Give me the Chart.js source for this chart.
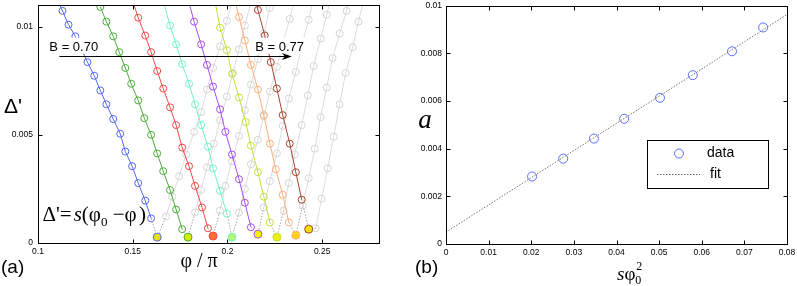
<!DOCTYPE html>
<html>
<head>
<meta charset="utf-8">
<script src="https://cdn.jsdelivr.net/npm/chart.js@4.4.0/dist/chart.umd.min.js"></script>
<style>
  body { margin: 0; background: #fff; }
  #wrap { position: relative; width: 797px; height: 286px; }
  canvas { position: absolute; top: 0; }
  #panelA { left: 0; }
  #panelB { left: 400px; }
</style>
</head>
<body>
<div id="wrap">
  <canvas id="panelA" width="390" height="286"></canvas>
  <canvas id="panelB" width="397" height="286"></canvas>
</div>
<script>
// panel (a): one descending branch per B, gray rising branch, minimum marker
const bValues = [0.70, 0.71, 0.72, 0.73, 0.74, 0.75, 0.76, 0.77];
const lineColors = ['#5468f0', '#4cad3a', '#f24848', '#72f2cc', '#a64ef2', '#bfe03a', '#ffae7a', '#a8432f'];
const minFills = ['#e4e400', '#d4ee00', '#ff6c30', '#aef870', '#f2f000', '#eeee10', '#ffd21e', '#f2e200'];

const phiDesc070 = [0.1097, 0.1129, 0.1161, 0.1197, 0.1229, 0.1261, 0.1297, 0.1329, 0.1361, 0.1397, 0.1434, 0.1461, 0.1497, 0.1529, 0.1566, 0.1597];
const dDesc070 = [0.01136, 0.01073, 0.01009, 0.00955, 0.00895, 0.00836, 0.00773, 0.00705, 0.00641, 0.00573, 0.00505, 0.00423, 0.00355, 0.00277, 0.00196, 0.00114];
const phiDesc071 = [0.1329, 0.1361, 0.1397, 0.1429, 0.1461, 0.1492, 0.1529, 0.1561, 0.1597, 0.1629, 0.1661, 0.1697, 0.1729, 0.1761];
const dDesc071 = [0.01091, 0.01023, 0.00955, 0.00882, 0.00809, 0.00736, 0.00659, 0.00577, 0.005, 0.00414, 0.00332, 0.00245, 0.00155, 0.00064];
const phiDesc072 = [0.1497, 0.1529, 0.1566, 0.1597, 0.1629, 0.1661, 0.1697, 0.1729, 0.1761, 0.1797, 0.1829, 0.1866, 0.1897];
const dDesc072 = [0.01127, 0.01041, 0.00959, 0.00882, 0.00795, 0.00714, 0.00627, 0.00545, 0.00441, 0.00355, 0.00264, 0.00164, 0.00068];
const phiDesc073 = [0.1661, 0.1697, 0.1729, 0.1761, 0.1797, 0.1829, 0.1861, 0.1897, 0.1924, 0.1961, 0.1997];
const dDesc073 = [0.01118, 0.01005, 0.00918, 0.00827, 0.00736, 0.00641, 0.00545, 0.00445, 0.00345, 0.00241, 0.00136];
const phiDesc074 = [0.1792, 0.1824, 0.1861, 0.1892, 0.1924, 0.1961, 0.1989, 0.2024, 0.2061, 0.2092, 0.2124];
const dDesc074 = [0.01127, 0.01023, 0.00918, 0.00823, 0.00723, 0.00618, 0.00514, 0.00409, 0.00295, 0.00186, 0.00073];
const phiDesc075 = [0.1934, 0.1961, 0.1997, 0.2024, 0.2061, 0.2097, 0.2124, 0.2161, 0.2192, 0.2224];
const dDesc075 = [0.0112, 0.00995, 0.00891, 0.00782, 0.00673, 0.00559, 0.0045, 0.00327, 0.00214, 0.00095];
const phiDesc076 = [0.2029, 0.2061, 0.2092, 0.2124, 0.2161, 0.2192, 0.2224, 0.2255, 0.2292, 0.2324];
const dDesc076 = [0.01159, 0.01045, 0.00936, 0.00823, 0.00709, 0.00591, 0.00459, 0.00341, 0.00223, 0.00095];
const phiDesc077 = [0.2129, 0.2161, 0.2197, 0.2229, 0.2261, 0.2292, 0.2329, 0.2361, 0.2392];
const dDesc077 = [0.01195, 0.01077, 0.00959, 0.00836, 0.00714, 0.00591, 0.00459, 0.00327, 0.002];

const phiAsc070 = [0.1676, 0.1708, 0.1745, 0.1782, 0.1824, 0.1861, 0.1892, 0.1924, 0.1961, 0.1997, 0.2029];
const dAsc070 = [0.00123, 0.00214, 0.00309, 0.00409, 0.00514, 0.00605, 0.00709, 0.00809, 0.00909, 0.01027, 0.01132];
const phiAsc071 = [0.1829, 0.1861, 0.1892, 0.1929, 0.1961, 0.1997, 0.2029, 0.2061, 0.2092, 0.2124];
const dAsc071 = [0.00141, 0.00245, 0.0035, 0.00459, 0.00568, 0.00677, 0.00786, 0.00895, 0.01005, 0.01114];
const phiAsc072 = [0.1961, 0.1989, 0.2024, 0.2061, 0.2092, 0.2124, 0.2161, 0.2192, 0.2224, 0.2255];
const dAsc072 = [0.0015, 0.00264, 0.00377, 0.00495, 0.00614, 0.00732, 0.0085, 0.00968, 0.01086, 0.01205];
const phiAsc073 = [0.2061, 0.2092, 0.2124, 0.2161, 0.2192, 0.2224, 0.2261, 0.2292, 0.2329, 0.2361];
const dAsc073 = [0.00141, 0.0025, 0.00364, 0.00477, 0.00586, 0.007, 0.00814, 0.00923, 0.01036, 0.0115];
const phiAsc074 = [0.2192, 0.2224, 0.2261, 0.2292, 0.2324, 0.2361, 0.2392, 0.2429, 0.2461];
const dAsc074 = [0.00164, 0.00286, 0.00414, 0.00541, 0.00668, 0.00791, 0.00914, 0.01032, 0.0115];
const phiAsc075 = [0.2297, 0.2324, 0.2355, 0.2392, 0.2424, 0.2455, 0.2492, 0.2524, 0.2555];
const dAsc075 = [0.0015, 0.00277, 0.00409, 0.00545, 0.00682, 0.00818, 0.00945, 0.01055, 0.01173];
const phiAsc076 = [0.2397, 0.2429, 0.2461, 0.2492, 0.2524, 0.2555, 0.2592, 0.2629, 0.2661];
const dAsc076 = [0.00173, 0.003, 0.00436, 0.00582, 0.00718, 0.00855, 0.00968, 0.01073, 0.01186];
const phiAsc077 = [0.2466, 0.2497, 0.2529, 0.2561, 0.2592, 0.2624, 0.2661, 0.2692, 0.2724];
const dAsc077 = [0.00068, 0.00205, 0.00345, 0.00491, 0.00641, 0.00786, 0.00905, 0.01023, 0.01141];

const phiMin = [0.1629, 0.1792, 0.1924, 0.2024, 0.2161, 0.2261, 0.2361, 0.2429];
const dMin = [0.00027, 0.00027, 0.00032, 0.00027, 0.00041, 0.00027, 0.00036, 0.00064];

const aXTicks = [0.1, 0.15, 0.2, 0.25];
const aXTickLabels = ['0.1', '0.15', '0.2', '0.25'];
const aYTicks = [0, 0.005, 0.01];
const aYTickLabels = ['0', '0.005', '0.01'];

// panel (b): a against s*phi0^2
const sPhi2 = [0.0202, 0.0275, 0.0347, 0.0418, 0.0502, 0.0579, 0.0671, 0.0744];
const aValues = [0.00283, 0.00358, 0.00442, 0.00525, 0.00613, 0.00708, 0.00808, 0.00908];
const fitX = [0, 0.08];
const fitY = [0.0005, 0.00962];

const bXTicks = [0, 0.01, 0.02, 0.03, 0.04, 0.05, 0.06, 0.07, 0.08];
const bXTickLabels = ['0', '0.01', '0.02', '0.03', '0.04', '0.05', '0.06', '0.07', '0.08'];
const bYTicks = [0, 0.002, 0.004, 0.006, 0.008, 0.01];
const bYTickLabels = ['0', '0.002', '0.004', '0.006', '0.008', '0.01'];

const SANS = '"Liberation Sans", Arial, sans-serif';
const SERIF = '"Liberation Serif", "Times New Roman", serif';
Chart.defaults.font.family = SANS;
Chart.defaults.color = '#000';

const toPts = (xs, ys) => xs.map((x, i) => ({ x: x, y: ys[i] }));

const descPhi = [phiDesc070, phiDesc071, phiDesc072, phiDesc073, phiDesc074, phiDesc075, phiDesc076, phiDesc077];
const descD = [dDesc070, dDesc071, dDesc072, dDesc073, dDesc074, dDesc075, dDesc076, dDesc077];
const ascPhi = [phiAsc070, phiAsc071, phiAsc072, phiAsc073, phiAsc074, phiAsc075, phiAsc076, phiAsc077];
const ascD = [dAsc070, dAsc071, dAsc072, dAsc073, dAsc074, dAsc075, dAsc076, dAsc077];

const datasetsA = [];
bValues.forEach((b, k) => {
    const last = descPhi[k].length - 1;
    // gray rising branch
    datasetsA.push({
        data: toPts(ascPhi[k], ascD[k]), showLine: true, order: 3,
        borderColor: '#dcdcdc', borderWidth: 1,
        pointRadius: 3.5, pointBorderColor: '#d4d4d4', pointBackgroundColor: 'rgba(0,0,0,0)', pointBorderWidth: 1
    });
    // dotted link through the minimum
    datasetsA.push({
        data: [
            { x: descPhi[k][last], y: descD[k][last] },
            { x: phiMin[k], y: dMin[k] },
            { x: ascPhi[k][0], y: ascD[k][0] }
        ],
        showLine: true, order: 2, borderColor: '#a8a8a8', borderWidth: 1, borderDash: [1.5, 1.5], pointRadius: 0
    });
    // coloured falling branch
    datasetsA.push({
        data: toPts(descPhi[k], descD[k]), showLine: true, order: 1,
        borderColor: lineColors[k], borderWidth: 1,
        pointRadius: 3.5, pointBorderColor: lineColors[k], pointBackgroundColor: 'rgba(0,0,0,0)', pointBorderWidth: 1
    });
    datasetsA.push({
        data: [{ x: phiMin[k], y: dMin[k] }], showLine: false, order: 0,
        pointRadius: 4, pointBorderColor: lineColors[k], pointBackgroundColor: minFills[k], pointBorderWidth: 1
    });
});

// box with inward ticks on all four sides
const frame = {
    id: 'frame',
    afterDraw(chart) {
        const { ctx, chartArea: ca, scales } = chart;
        const l = Math.round(ca.left) + 0.5, r = Math.round(ca.right) + 0.5;
        const t = Math.round(ca.top) + 0.5, b = Math.round(ca.bottom) + 0.5;
        ctx.save();
        ctx.strokeStyle = '#000';
        ctx.lineWidth = 1;
        ctx.strokeRect(l, t, r - l, b - t);
        ctx.beginPath();
        scales.x.ticks.forEach((tk) => {
            const p = Math.round(scales.x.getPixelForValue(tk.value)) + 0.5;
            ctx.moveTo(p, b); ctx.lineTo(p, b - 4);
            ctx.moveTo(p, t); ctx.lineTo(p, t + 4);
        });
        scales.y.ticks.forEach((tk) => {
            const p = Math.round(scales.y.getPixelForValue(tk.value)) + 0.5;
            ctx.moveTo(l, p); ctx.lineTo(l + 4, p);
            ctx.moveTo(r, p); ctx.lineTo(r - 4, p);
        });
        ctx.stroke();
        ctx.restore();
    }
};

const scaleOpts = (min, max, ticks, labels, size, pad) => ({
    type: 'linear', min: min, max: max,
    afterBuildTicks: (s) => { s.ticks = ticks.map((v) => ({ value: v })); },
    afterFit: (s) => {
        if (s.isHorizontal()) s.height = size; else s.width = size;
        s.paddingTop = 0; s.paddingBottom = 0; s.paddingLeft = 0; s.paddingRight = 0;
    },
    ticks: { callback: (v, i) => labels[i], font: { size: 8.5 }, color: '#000', padding: pad, maxRotation: 0, autoSkip: false },
    grid: { display: false, drawTicks: false },
    border: { display: false }
});

const annotA = {
    id: 'annotA',
    afterDatasetsDraw(chart) {
        const { ctx, scales } = chart;
        const xs = scales.x, ys = scales.y;
        ctx.save();
        ctx.fillStyle = '#000';
        ctx.textBaseline = 'alphabetic';

        // B labels on white boxes
        ctx.font = '13px ' + SANS;
        [[bValues[0], 0.106], [bValues[bValues.length - 1], 0.2147]].forEach(([b, x]) => {
            const txt = 'B = ' + b.toFixed(2);
            const px = xs.getPixelForValue(x), py = ys.getPixelForValue(0.00889);
            const w = ctx.measureText(txt).width;
            ctx.fillStyle = '#fff';
            ctx.fillRect(px - 2, py - 13, w + 4, 16);
            ctx.fillStyle = '#000';
            ctx.fillText(txt, px, py);
        });

        // arrow
        const ay = Math.round(ys.getPixelForValue(0.00866)) + 0.5;
        const ax0 = xs.getPixelForValue(0.1113), ax1 = xs.getPixelForValue(0.234);
        ctx.strokeStyle = '#000';
        ctx.lineWidth = 1;
        ctx.beginPath();
        ctx.moveTo(ax0, ay); ctx.lineTo(ax1 - 4, ay);
        ctx.stroke();
        ctx.beginPath();
        ctx.moveTo(ax1, ay);
        ctx.lineTo(ax1 - 10, ay - 3.5);
        ctx.lineTo(ax1 - 7, ay);
        ctx.lineTo(ax1 - 10, ay + 3.5);
        ctx.closePath();
        ctx.fill();

        // formula
        let fx = xs.getPixelForValue(0.1024);
        const fy = ys.getPixelForValue(0.00101);
        const part = (txt, font, dy) => {
            ctx.font = font;
            ctx.fillText(txt, fx, fy + dy);
            fx += ctx.measureText(txt).width;
        };
        part('\u0394\'=', '21px ' + SERIF, 0);
        part(' ', '8px ' + SERIF, 0);
        part('s', 'italic 21px ' + SERIF, 0);
        part('(\u03c6', '21px ' + SERIF, 0);
        part('0', '13px ' + SERIF, 5);
        part(' \u2212\u03c6', '21px ' + SERIF, 0);
        part(' ', '9px ' + SERIF, 0);
        part(')', '21px ' + SERIF, 0);

        // axis labels and panel tag
        ctx.font = '21px ' + SANS;
        ctx.textAlign = 'center';
        ctx.textBaseline = 'middle';
        ctx.fillText('\u0394\'', 13, 107);
        ctx.font = '20px ' + SERIF;
        ctx.fillText('\u03c6 / \u03c0', 199, 262);
        ctx.textAlign = 'left';
        ctx.textBaseline = 'alphabetic';
        ctx.font = '19px ' + SANS;
        ctx.fillText('(a)', 1, 273);
        ctx.restore();
    }
};

new Chart(document.getElementById('panelA'), {
    type: 'scatter',
    data: { datasets: datasetsA },
    options: {
        responsive: false, animation: false, events: [],
        layout: { padding: { top: 3, right: 11, left: 0, bottom: 0 } },
        plugins: { legend: { display: false }, tooltip: { enabled: false } },
        scales: {
            x: scaleOpts(0.1, 0.28, aXTicks, aXTickLabels, 43, 4),
            y: scaleOpts(0, 0.011, aYTicks, aYTickLabels, 38, 5)
        }
    },
    plugins: [annotA, frame]
});

const annotB = {
    id: 'annotB',
    afterDatasetsDraw(chart) {
        const { ctx } = chart;
        ctx.save();
        // legend
        ctx.fillStyle = '#fff';
        ctx.fillRect(247.5, 140.5, 121, 48);
        ctx.strokeStyle = '#000';
        ctx.lineWidth = 1;
        ctx.strokeRect(247.5, 140.5, 121, 48);
        ctx.strokeStyle = '#5a6cff';
        ctx.beginPath();
        ctx.arc(279, 153.5, 4.5, 0, Math.PI * 2);
        ctx.stroke();
        ctx.strokeStyle = '#666';
        ctx.setLineDash([1.5, 1.5]);
        ctx.beginPath();
        ctx.moveTo(257, 174.5); ctx.lineTo(300, 174.5);
        ctx.stroke();
        ctx.setLineDash([]);
        ctx.fillStyle = '#000';
        ctx.font = '14px ' + SANS;
        ctx.textBaseline = 'middle';
        ctx.fillText('data', 307, 153);
        ctx.fillText('fit', 310, 174);

        // axis labels
        ctx.textBaseline = 'alphabetic';
        ctx.textAlign = 'center';
        ctx.font = 'italic 27px ' + SERIF;
        ctx.fillText('a', 25, 128);
        ctx.textAlign = 'left';
        let x = 217;
        ctx.font = 'italic 19px ' + SERIF;
        ctx.fillText('s', x, 280);
        x += ctx.measureText('s').width;
        ctx.font = '19px ' + SERIF;
        ctx.fillText('\u03c6', x, 280);
        x += ctx.measureText('\u03c6').width;
        ctx.font = '12px ' + SERIF;
        ctx.fillText('0', x, 284);
        ctx.fillText('2', x + 1, 270);
        ctx.font = '19px ' + SANS;
        ctx.fillText('(b)', 15, 273);
        ctx.restore();
    }
};

new Chart(document.getElementById('panelB'), {
    type: 'scatter',
    data: {
        datasets: [
            {
                label: 'data', data: toPts(sPhi2, aValues), showLine: false, order: 0,
                pointRadius: 4.5, pointBorderColor: '#5a6cff', pointBackgroundColor: 'rgba(0,0,0,0)', pointBorderWidth: 1
            },
            {
                label: 'fit', data: toPts(fitX, fitY), showLine: true, order: 1,
                borderColor: '#777', borderWidth: 1, borderDash: [1.5, 1.5], pointRadius: 0
            }
        ]
    },
    options: {
        responsive: false, animation: false, events: [],
        layout: { padding: { top: 4, right: 10, left: 0, bottom: 0 } },
        plugins: { legend: { display: false }, tooltip: { enabled: false } },
        scales: {
            x: scaleOpts(0, 0.08, bXTicks, bXTickLabels, 42, 4),
            y: scaleOpts(0, 0.01, bYTicks, bYTickLabels, 46, 4)
        }
    },
    plugins: [annotB, frame]
});
</script>
</body>
</html>
